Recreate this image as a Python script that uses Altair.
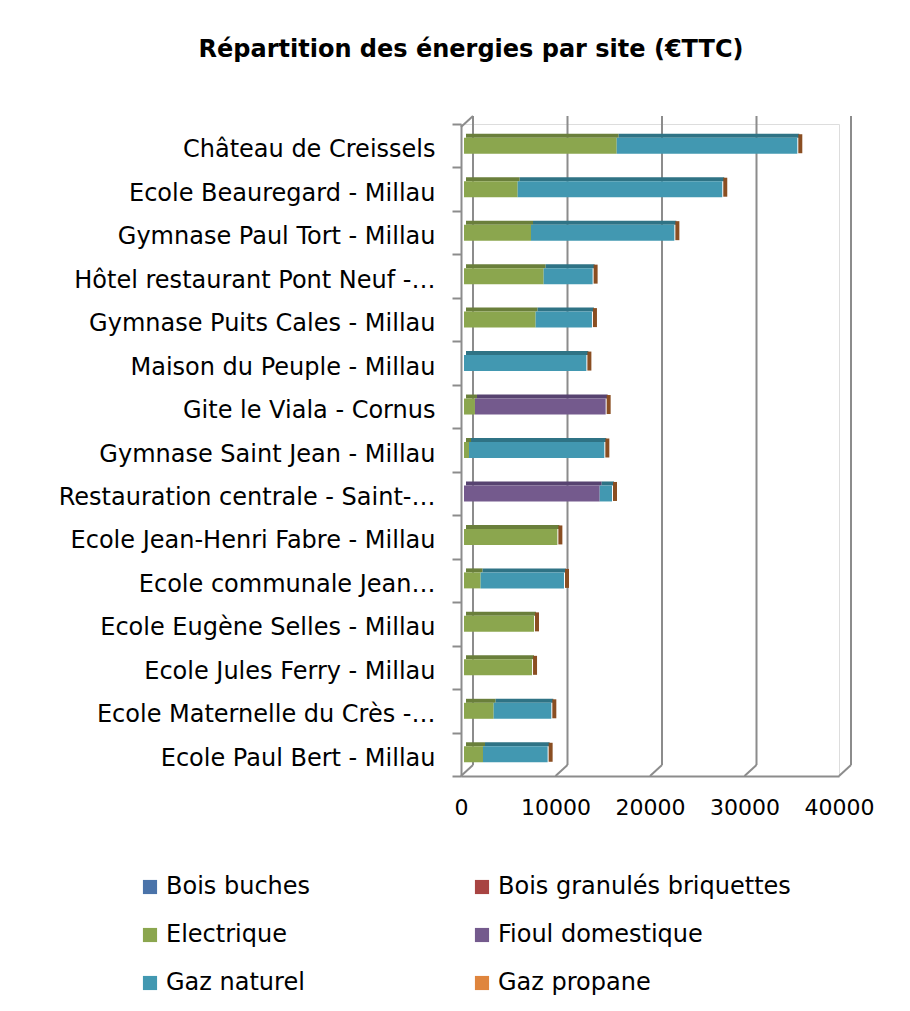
import altair as alt
import pandas as pd

sites = [
    "Château de Creissels",
    "Ecole Beauregard - Millau",
    "Gymnase Paul Tort - Millau",
    "Hôtel restaurant Pont Neuf -…",
    "Gymnase Puits Cales - Millau",
    "Maison du Peuple - Millau",
    "Gite le Viala - Cornus",
    "Gymnase Saint Jean - Millau",
    "Restauration centrale - Saint-…",
    "Ecole Jean-Henri Fabre - Millau",
    "Ecole communale Jean…",
    "Ecole Eugène Selles - Millau",
    "Ecole Jules Ferry - Millau",
    "Ecole Maternelle du Crès -…",
    "Ecole Paul Bert - Millau",
]

energies = ["Bois buches", "Bois granulés briquettes", "Electrique",
            "Fioul domestique", "Gaz naturel", "Gaz propane"]

bois_buches = [0] * 15
bois_granules = [0] * 15
electrique = [16160, 5680, 7090, 8430, 7580, 0, 1160, 530, 0, 9880, 1760, 7410, 7200, 3140, 2010]
fioul = [0, 0, 0, 0, 0, 0, 13830, 0, 14360, 0, 0, 0, 0, 0, 0]
gaz_naturel = [19110, 21650, 15170, 5180, 5960, 12950, 0, 14320, 1300, 0, 8820, 0, 0, 6100, 6840]
gaz_propane = [0] * 15

front_colors = ["#4A73A9", "#A84442", "#8BA64E", "#745A8D", "#4298B1", "#DF853D"]
top_colors = ["#37577F", "#7E3331", "#6A7F3B", "#574370", "#2F7385", "#A8642E"]

grid_vals = [0, 10000, 20000, 30000, 40000]

series = [bois_buches, bois_granules, electrique, fioul, gaz_naturel, gaz_propane]
rows = []
for i, s in enumerate(sites):
    for k, e in enumerate(energies):
        v = series[k][i]
        if v > 0:
            rows.append({"site": s, "energy": e, "value": v, "order": k})
df = pd.DataFrame(rows)
totals = pd.DataFrame({"site": sites,
                       "total": [sum(series[k][i] for k in range(6)) for i in range(15)]})
grid_df = pd.DataFrame({"v": grid_vals})

FONT = "DejaVu Sans"
W, H = 378, 652

yenc = alt.Y("site:N", sort=sites, title=None,
             scale=alt.Scale(paddingInner=0.0, paddingOuter=0.0),
             axis=alt.Axis(labelFontSize=24, labelFont=FONT, labelColor="#000000",
                           labelLimit=440, labelPadding=17, labelOffset=4,
                           tickBand="extent", tickSize=9, tickColor="#8c8c8c",
                           tickWidth=2, domainColor="#8c8c8c", domainWidth=2))
xscale = alt.Scale(domain=[0, 40000], nice=False)
xenc = alt.X("value:Q", stack="zero", scale=xscale, title=None,
             axis=alt.Axis(values=grid_vals, format="d", labelFontSize=22, labelFont=FONT,
                           labelColor="#000000", ticks=False, grid=False,
                           labelPadding=21, domainColor="#8c8c8c", domainWidth=2,
                           labelFlush=False))

back_grid = alt.Chart(grid_df).mark_rule(color="#8c8c8c", strokeWidth=2, xOffset=12).encode(
    x=alt.X("v:Q", scale=xscale), y=alt.value(-8), y2=alt.value(H - 11))
slants = alt.Chart(grid_df).mark_rule(color="#8c8c8c", strokeWidth=2, xOffset=12, x2Offset=0).encode(
    x=alt.X("v:Q", scale=xscale), x2="v:Q", y=alt.value(H - 11), y2=alt.value(H))
top_slant = alt.Chart(grid_df[grid_df.v == 0]).mark_rule(
    color="#8c8c8c", strokeWidth=2, xOffset=0, x2Offset=12).encode(
    x=alt.X("v:Q", scale=xscale), x2="v:Q", y=alt.value(3), y2=alt.value(-8))

top_face = alt.Chart(df).mark_bar(height=4, yOffset=-10, xOffset=5, x2Offset=5).encode(
    y=yenc, x=xenc,
    color=alt.Color("energy:N", scale=alt.Scale(domain=energies, range=top_colors), legend=None),
    order=alt.Order("order:Q"))

end_face = alt.Chart(totals).mark_tick(orient="vertical", thickness=4, size=19, opacity=1,
                                        yOffset=-2, xOffset=6, color="#8A4E22").encode(
    y=alt.Y("site:N", sort=sites), x=alt.X("total:Q", scale=xscale))

front = alt.Chart(df).mark_bar(height=16, xOffset=3, x2Offset=3).encode(
    y=yenc, x=xenc,
    color=alt.Color("energy:N", scale=alt.Scale(domain=energies, range=front_colors),
                    legend=alt.Legend(title=None, orient="none", legendX=-323, legendY=751,
                                      direction="horizontal",
                                      columns=2, columnPadding=159, rowPadding=24,
                                      symbolType="square", symbolSize=200,
                                      symbolStrokeWidth=0, labelFontSize=24,
                                      labelFont=FONT, labelColor="#000000",
                                      labelLimit=400, labelOffset=4)),
    order=alt.Order("order:Q"))

chart = alt.layer(back_grid, slants, top_slant, top_face, front, end_face).resolve_scale(
    color="independent").properties(
    width=W, height=H,
    autosize=alt.AutoSizeParams(type="none"),
    padding={"left": 453, "top": 116, "right": 50, "bottom": 220},
    title=alt.Title("Répartition des énergies par site (€TTC)", fontSize=24,
                    font=FONT, fontWeight="bold", color="#000000",
                    anchor="middle", dx=-179, offset=50),
).configure_view(stroke=None).configure(background="white")

chart.save("out.html", embed_options={"renderer": "svg", "actions": False})
